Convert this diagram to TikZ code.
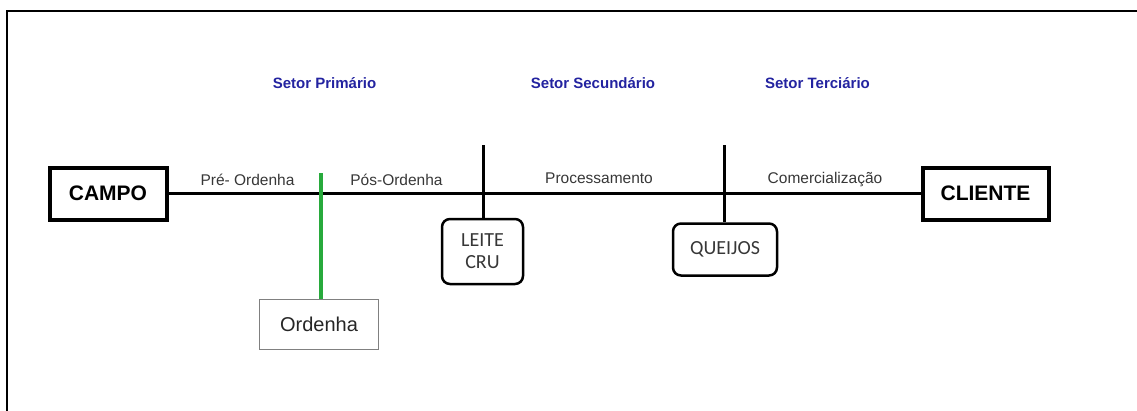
\documentclass[tikz,border=0pt]{standalone}
\usepackage{fontspec}
\setmainfont{Liberation Sans}
\newfontfamily\carl{Carlito}
\definecolor{setorblue}{RGB}{35,35,160}
\definecolor{labgray}{RGB}{55,55,55}
\definecolor{greenline}{RGB}{40,170,60}
\tikzset{
  endbox/.style={draw=black, line width=4pt, inner sep=0pt, font=\bfseries\fontsize{21}{24}\selectfont},
  prodbox/.style={draw=black, line width=2.5pt, rounded corners=8pt, inner sep=0pt, align=center, font=\carl\fontsize{20}{22}\selectfont, text=labgray},
  ordbox/.style={draw=gray, line width=1.2pt, inner sep=0pt, font=\fontsize{20}{24}\selectfont, text=black!85},
  setor/.style={anchor=base, text=setorblue, font=\bfseries\fontsize{15}{18}\selectfont},
  lab/.style={anchor=base, text=labgray, font=\fontsize{15.5}{18}\selectfont},
  mainline/.style={line width=3pt, draw=black},
}
\begin{document}
\begin{tikzpicture}[x=1pt,y=-1pt]
\useasboundingbox (0,0) rectangle (1137,410);
% frame
\draw[line width=1.5pt] (7,412) -- (7,11) -- (1140,11);
% nodes
\node[endbox, minimum width=117pt, minimum height=52pt] (campo) at (108,193.5) {CAMPO};
\node[endbox, minimum width=126pt, minimum height=52pt] (cliente) at (985.5,193.5) {CLIENTE};
\node[ordbox, minimum width=119pt, minimum height=50pt] (ord) at (319,324.5) {Ordenha};
\node[prodbox, minimum width=81pt, minimum height=65pt] (leite) at (482.5,251.5) {LEITE\\CRU};
\node[prodbox, minimum width=104pt, minimum height=52pt] (queijos) at (725,249.5) {QUEIJOS};
% main line
\draw[mainline] (campo.east) -- (cliente.west);
% verticals
\coordinate (ltop) at (483,145);
\coordinate (qtop) at (724,145);
\coordinate (gtop) at (321,173);
\draw[mainline] (ltop) -- (ltop |- leite.north);
\draw[mainline] (qtop) -- (qtop |- queijos.north);
\draw[line width=4pt, draw=greenline] (gtop) -- (gtop |- ord.north);
% sector labels
\node[setor] (s1) at (324.5,88) {Setor Primário};
\node[setor] (s2) at (593,88) {Setor Secundário};
\node[setor] (s3) at (817.5,88) {Setor Terciário};
% line labels
\node[lab] (pre) at (247.5,185.5) {Pré- Ordenha};
\node[lab] (pos) at (396.5,185.5) {Pós-Ordenha};
\node[lab] (proc) at (599,183) {Processamento};
\node[lab] (com) at (825,183) {Comercialização};
\end{tikzpicture}
\end{document}
